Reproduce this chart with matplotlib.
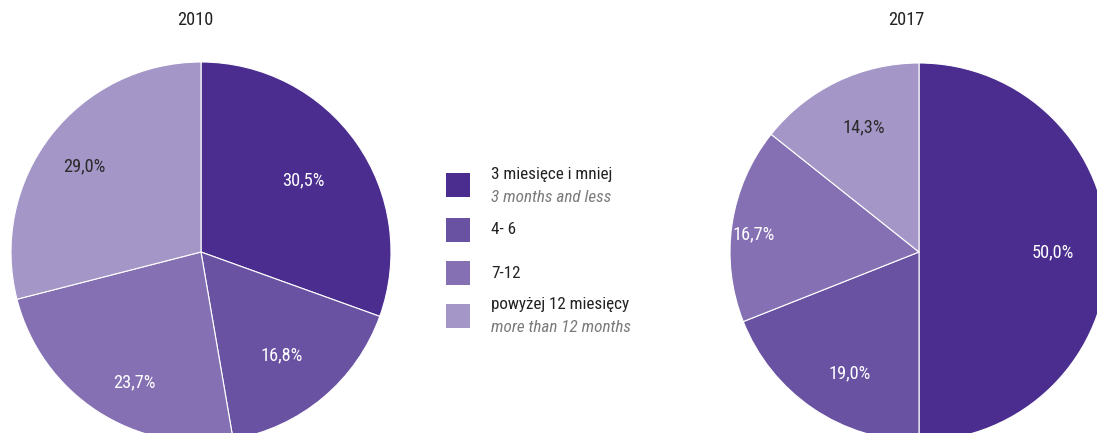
import matplotlib
matplotlib.use("Agg")
import matplotlib.pyplot as plt
from matplotlib.patches import Rectangle
import numpy as np
import logging
logging.getLogger('matplotlib.font_manager').setLevel(logging.ERROR)

plt.rcParams['font.family'] = ['Roboto Condensed', 'Fira Sans Condensed', 'PT Sans Narrow',
                               'Asap Condensed', 'Archivo Narrow', 'DejaVu Sans']

categories = ["3 miesięce i mniej", "4- 6", "7-12", "powyżej 12 miesięcy"]
categories_en = ["3 months and less", "", "", "more than 12 months"]
values_2010 = [30.5, 16.8, 23.7, 29.0]
values_2017 = [50.0, 19.0, 16.7, 14.3]
labels_2010 = ["30,5%", "16,8%", "23,7%", "29,0%"]
labels_2017 = ["50,0%", "19,0%", "16,7%", "14,3%"]
colors = ["#4a2d8f", "#6a52a3", "#8570b3", "#a497c8"]
label_colors = ["white", "white", "white", "#2a2a2a"]

W, H = 1097, 433
FS = 13.2
FS_LEG = 12.3
fig = plt.figure(figsize=(W / 100, H / 100), dpi=100)
ax = fig.add_axes([0, 0, 1, 1])
ax.set_xlim(0, W)
ax.set_ylim(0, H)
ax.set_aspect('equal')
ax.axis('off')


def draw_pie(vals, labels, center, radius, dists, angle_adj, title, title_x):
    ax.pie(vals, startangle=90, counterclock=False, colors=colors,
           center=center, radius=radius, frame=True,
           wedgeprops=dict(edgecolor='white', linewidth=0.8))
    total = sum(vals)
    cum = 0
    for i, v in enumerate(vals):
        mid = 90 - (cum + v / 2) / total * 360 + angle_adj[i]
        cum += v
        r = dists[i] * radius
        x = center[0] + r * np.cos(np.radians(mid))
        y = center[1] + r * np.sin(np.radians(mid))
        ax.text(x, y, labels[i], ha='center', va='center', fontsize=FS,
                color=label_colors[i])
    ax.text(title_x, H - 20, title, ha='center', va='center', fontsize=FS,
            color='#222222')


draw_pie(values_2010, labels_2010, (201, 181), 190,
         [0.66, 0.69, 0.77, 0.76], [0, -2, 6, 1.5], "2010", 195)
draw_pie(values_2017, labels_2017, (919, 181), 189,
         [0.71, 0.74, 0.88, 0.72], [0, 4.5, 2.3, -1.8], "2017", 906)

ax.set_xlim(0, W)
ax.set_ylim(0, H)
ax.axis('off')

# legend
sq_y = [185, 230, 273, 316]
for i, cy in enumerate(sq_y):
    ax.add_patch(Rectangle((446, H - cy - 12), 24, 24, facecolor=colors[i],
                           edgecolor='none'))
    if categories_en[i]:
        ax.text(491, H - cy + 11, categories[i], ha='left', va='center',
                fontsize=FS_LEG, color='#222222')
        ax.text(491, H - cy - 12, categories_en[i], ha='left', va='center',
                fontsize=FS_LEG, color='#7a7a7a', style='italic')
    else:
        ax.text(491, H - cy, categories[i], ha='left', va='center',
                fontsize=FS_LEG, color='#222222')

fig.savefig("out.png", dpi=100)
